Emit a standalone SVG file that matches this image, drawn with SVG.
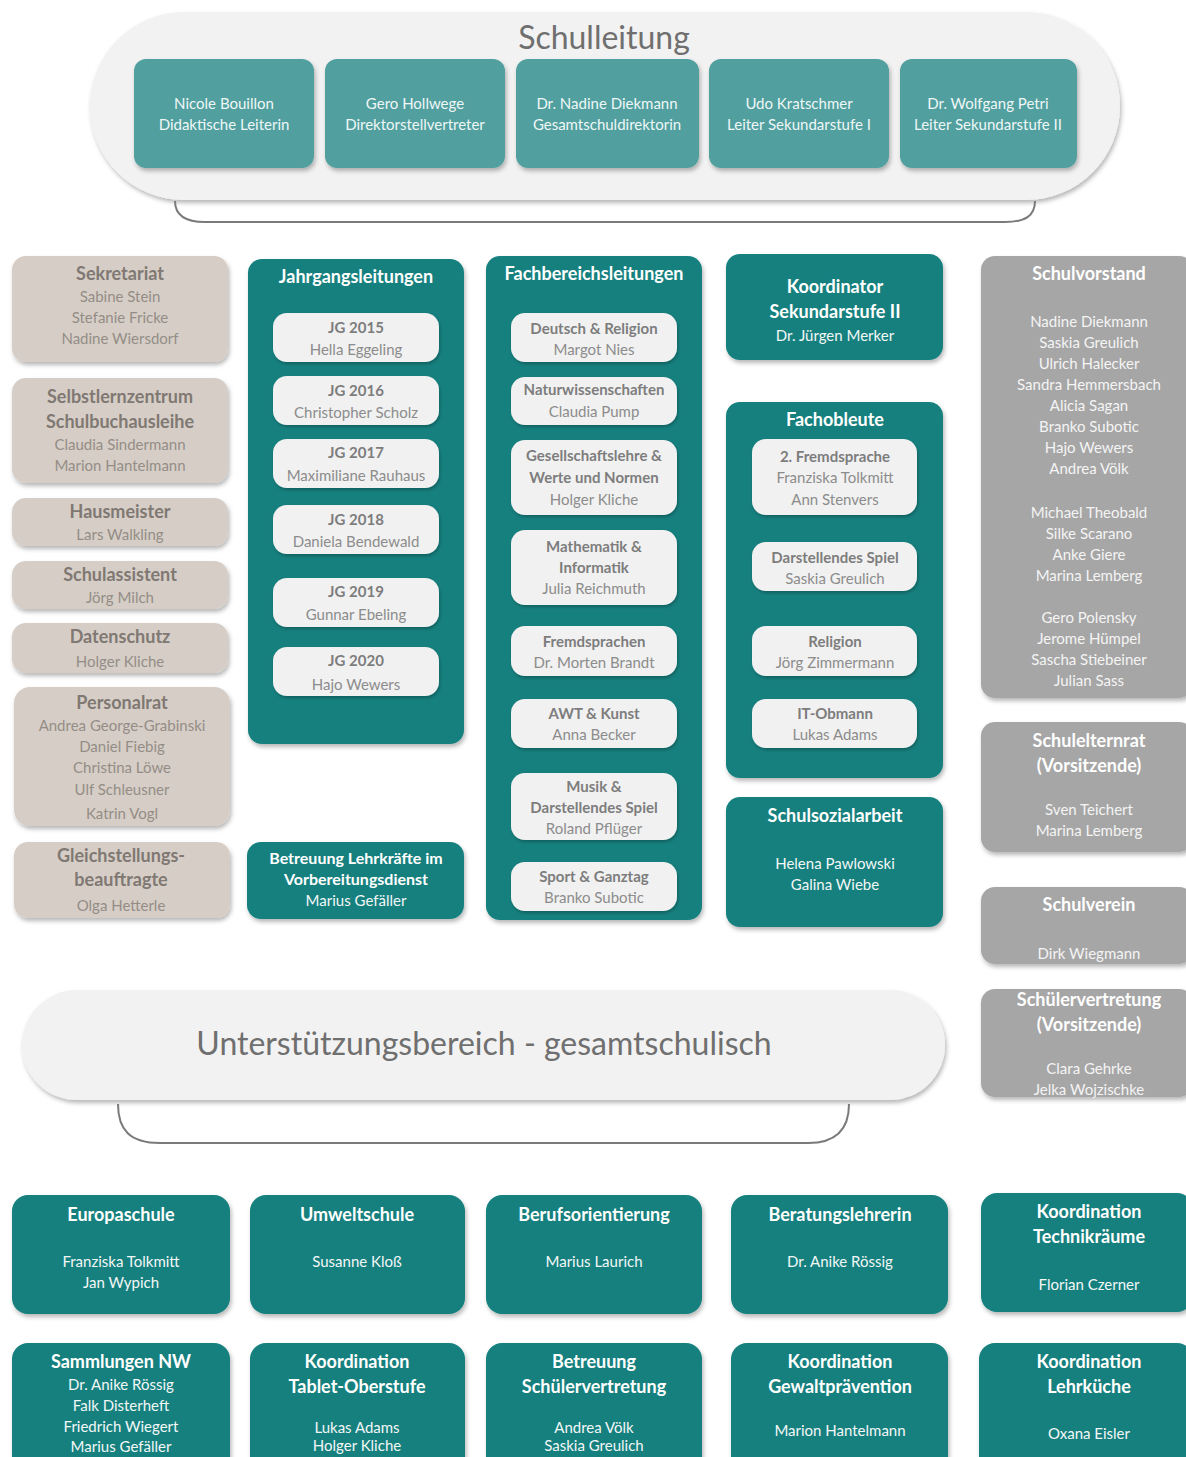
<svg xmlns="http://www.w3.org/2000/svg" width="1186" height="1457" viewBox="0 0 1186 1457">
<defs>
<filter id="sh" x="-10%" y="-10%" width="125%" height="130%">
<feDropShadow dx="1.5" dy="3" stdDeviation="2" flood-color="#000" flood-opacity="0.28"/>
</filter>
<filter id="shl" x="-10%" y="-10%" width="125%" height="130%">
<feDropShadow dx="1" dy="2" stdDeviation="1.5" flood-color="#000" flood-opacity="0.25"/>
</filter>
</defs>
<style>
text{font-family:Lato,"Open Sans","Liberation Sans",sans-serif;text-anchor:middle}
.pill{fill:#f2f2f2;filter:url(#sh)}
.brk{fill:none;stroke:#7a7a7a;stroke-width:2}
.big{font-size:32px;fill:#6f6f6f}
.top{fill:#519f9e;filter:url(#sh)}
.tt{fill:#eef7f7;font-size:15px}
.teal{fill:#14807e;filter:url(#sh)}
.beige{fill:#d6cec6;filter:url(#sh)}
.grey{fill:#a6a6a6;filter:url(#sh)}
.inner{fill:#f1f1f1;filter:url(#shl)}
.wh{fill:#ffffff;font-weight:bold;font-size:18px}
.whn{fill:#f2f7f7;font-size:15px}
.bt{fill:#807873;font-weight:bold;font-size:18px}
.bn{fill:#948d87;font-size:15px}
.it{fill:#7d7d7d;font-weight:bold;font-size:15px}
.in{fill:#8c8c8c;font-size:15px}
.gt{fill:#ffffff;font-weight:bold;font-size:18px}
.gn{fill:#f4f4f4;font-size:15px}
.wb{fill:#ffffff;font-weight:bold;font-size:16px}
</style>

<g id="decor">
<g id="schulleitung">
<rect class="pill" x="90" y="12" width="1030" height="188" rx="94"/>
<text class="big" x="604" y="49">Schulleitung</text>
</g>
<path class="brk" d="M175,201 C175,216 186,222 205,222 L1005,222 C1025,222 1035,216 1035,201"/>
<g id="unterstuetzung">
<rect class="pill" x="22" y="990" width="923" height="110" rx="55"/>
<text class="big" x="484" y="1055">Unterstützungsbereich - gesamtschulisch</text>
</g>
<path class="brk" d="M118,1104 C118,1130 130,1143 160,1143 L808,1143 C836,1143 849,1130 849,1104"/>
</g>

<g id="connectors"></g>

<!-- Schulleitung members -->
<g id="sl1"><rect class="top" x="134" y="59" width="180" height="109" rx="12"/><text class="tt" x="224" y="109">Nicole Bouillon</text><text class="tt" x="224" y="130">Didaktische Leiterin</text></g>
<g id="sl2"><rect class="top" x="325" y="59" width="180" height="109" rx="12"/><text class="tt" x="415" y="109">Gero Hollwege</text><text class="tt" x="415" y="130">Direktorstellvertreter</text></g>
<g id="sl3"><rect class="top" x="516" y="59" width="183" height="109" rx="12"/><text class="tt" x="607" y="109">Dr. Nadine Diekmann</text><text class="tt" x="607" y="130">Gesamtschuldirektorin</text></g>
<g id="sl4"><rect class="top" x="709" y="59" width="180" height="109" rx="12"/><text class="tt" x="799" y="109">Udo Kratschmer</text><text class="tt" x="799" y="130">Leiter Sekundarstufe I</text></g>
<g id="sl5"><rect class="top" x="900" y="59" width="177" height="109" rx="12"/><text class="tt" x="988" y="109">Dr. Wolfgang Petri</text><text class="tt" x="988" y="130">Leiter Sekundarstufe II</text></g>

<!-- Left column -->
<g id="sekretariat"><rect class="beige" x="12" y="256" width="216" height="106" rx="14"/><text class="bt" x="120" y="280">Sekretariat</text><text class="bn" x="120" y="302">Sabine Stein</text><text class="bn" x="120" y="323">Stefanie Fricke</text><text class="bn" x="120" y="344">Nadine Wiersdorf</text></g>
<g id="selbstlern"><rect class="beige" x="12" y="378" width="216" height="105" rx="14"/><text class="bt" x="120" y="403">Selbstlernzentrum</text><text class="bt" x="120" y="428">Schulbuchausleihe</text><text class="bn" x="120" y="450">Claudia Sindermann</text><text class="bn" x="120" y="471">Marion Hantelmann</text></g>
<g id="hausmeister"><rect class="beige" x="12" y="498" width="216" height="48" rx="14"/><text class="bt" x="120" y="518">Hausmeister</text><text class="bn" x="120" y="540">Lars Walkling</text></g>
<g id="schulassistent"><rect class="beige" x="12" y="561" width="216" height="48" rx="14"/><text class="bt" x="120" y="581">Schulassistent</text><text class="bn" x="120" y="603">Jörg Milch</text></g>
<g id="datenschutz"><rect class="beige" x="12" y="623" width="216" height="50" rx="14"/><text class="bt" x="120" y="643">Datenschutz</text><text class="bn" x="120" y="667">Holger Kliche</text></g>
<g id="personalrat"><rect class="beige" x="14" y="687" width="216" height="139" rx="16"/><text class="bt" x="122" y="709">Personalrat</text><text class="bn" x="122" y="731">Andrea George-Grabinski</text><text class="bn" x="122" y="752">Daniel Fiebig</text><text class="bn" x="122" y="773">Christina Löwe</text><text class="bn" x="122" y="795">Ulf Schleusner</text><text class="bn" x="122" y="819">Katrin Vogl</text></g>
<g id="gleichstellung"><rect class="beige" x="14" y="842" width="216" height="76" rx="14"/><text class="bt" x="121" y="862">Gleichstellungs-</text><text class="bt" x="121" y="886">beauftragte</text><text class="bn" x="121" y="911">Olga Hetterle</text></g>

<!-- Jahrgangsleitungen -->
<g id="jahrgang">
<rect class="teal" x="248" y="259" width="216" height="485" rx="14"/>
<text class="wh" x="356" y="283">Jahrgangsleitungen</text>
<g id="jg2015"><rect class="inner" x="273" y="313" width="166" height="49" rx="14"/><text class="it" x="356" y="333">JG 2015</text><text class="in" x="356" y="355">Hella Eggeling</text></g>
<g id="jg2016"><rect class="inner" x="273" y="376" width="166" height="49" rx="14"/><text class="it" x="356" y="396">JG 2016</text><text class="in" x="356" y="418">Christopher Scholz</text></g>
<g id="jg2017"><rect class="inner" x="273" y="439" width="166" height="49" rx="14"/><text class="it" x="356" y="458">JG 2017</text><text class="in" x="356" y="481">Maximiliane Rauhaus</text></g>
<g id="jg2018"><rect class="inner" x="273" y="505" width="166" height="49" rx="14"/><text class="it" x="356" y="525">JG 2018</text><text class="in" x="356" y="547">Daniela Bendewald</text></g>
<g id="jg2019"><rect class="inner" x="273" y="578" width="166" height="49" rx="14"/><text class="it" x="356" y="597">JG 2019</text><text class="in" x="356" y="620">Gunnar Ebeling</text></g>
<g id="jg2020"><rect class="inner" x="273" y="647" width="166" height="49" rx="14"/><text class="it" x="356" y="666">JG 2020</text><text class="in" x="356" y="690">Hajo Wewers</text></g>
</g>
<g id="betreuung-lehrkraefte"><rect class="teal" x="247" y="842" width="217" height="77" rx="14"/><text class="wb" x="356" y="864" font-size="15">Betreuung Lehrkräfte im</text><text class="wb" x="356" y="885">Vorbereitungsdienst</text><text class="whn" x="356" y="906">Marius Gefäller</text></g>

<!-- Fachbereichsleitungen -->
<g id="fachbereich">
<rect class="teal" x="486" y="256" width="216" height="664" rx="14"/>
<text class="wh" x="594" y="280">Fachbereichsleitungen</text>
<g id="fb1"><rect class="inner" x="511" y="313" width="166" height="49" rx="14"/><text class="it" x="594" y="334">Deutsch &amp; Religion</text><text class="in" x="594" y="355">Margot Nies</text></g>
<g id="fb2"><rect class="inner" x="511" y="377" width="166" height="48" rx="14"/><text class="it" x="594" y="395">Naturwissenschaften</text><text class="in" x="594" y="417">Claudia Pump</text></g>
<g id="fb3"><rect class="inner" x="511" y="440" width="166" height="75" rx="14"/><text class="it" x="594" y="461">Gesellschaftslehre &amp;</text><text class="it" x="594" y="483">Werte und Normen</text><text class="in" x="594" y="505">Holger Kliche</text></g>
<g id="fb4"><rect class="inner" x="511" y="530" width="166" height="75" rx="14"/><text class="it" x="594" y="552">Mathematik &amp;</text><text class="it" x="594" y="573">Informatik</text><text class="in" x="594" y="594">Julia Reichmuth</text></g>
<g id="fb5"><rect class="inner" x="511" y="626" width="166" height="50" rx="14"/><text class="it" x="594" y="647">Fremdsprachen</text><text class="in" x="594" y="668">Dr. Morten Brandt</text></g>
<g id="fb6"><rect class="inner" x="511" y="699" width="166" height="49" rx="14"/><text class="it" x="594" y="719">AWT &amp; Kunst</text><text class="in" x="594" y="740">Anna Becker</text></g>
<g id="fb7"><rect class="inner" x="511" y="773" width="166" height="67" rx="14"/><text class="it" x="594" y="792">Musik &amp;</text><text class="it" x="594" y="813">Darstellendes Spiel</text><text class="in" x="594" y="834">Roland Pflüger</text></g>
<g id="fb8"><rect class="inner" x="511" y="862" width="166" height="49" rx="14"/><text class="it" x="594" y="882">Sport &amp; Ganztag</text><text class="in" x="594" y="903">Branko Subotic</text></g>
</g>

<!-- Koordinator / Fachobleute / Schulsozialarbeit -->
<g id="koord-sek2"><rect class="teal" x="726" y="254" width="217" height="106" rx="14"/><text class="wh" x="835" y="293">Koordinator</text><text class="wh" x="835" y="318">Sekundarstufe II</text><text class="whn" x="835" y="341">Dr. Jürgen Merker</text></g>
<g id="fachobleute">
<rect class="teal" x="726" y="402" width="217" height="376" rx="14"/>
<text class="wh" x="835" y="426">Fachobleute</text>
<g id="fo1"><rect class="inner" x="752" y="439" width="165" height="76" rx="14"/><text class="it" x="835" y="462">2. Fremdsprache</text><text class="in" x="835" y="483">Franziska Tolkmitt</text><text class="in" x="835" y="505">Ann Stenvers</text></g>
<g id="fo2"><rect class="inner" x="752" y="542" width="165" height="49" rx="14"/><text class="it" x="835" y="563">Darstellendes Spiel</text><text class="in" x="835" y="584">Saskia Greulich</text></g>
<g id="fo3"><rect class="inner" x="752" y="626" width="165" height="50" rx="14"/><text class="it" x="835" y="647">Religion</text><text class="in" x="835" y="668">Jörg Zimmermann</text></g>
<g id="fo4"><rect class="inner" x="752" y="699" width="165" height="49" rx="14"/><text class="it" x="835" y="719">IT-Obmann</text><text class="in" x="835" y="740">Lukas Adams</text></g>
</g>
<g id="schulsozialarbeit"><rect class="teal" x="726" y="797" width="217" height="130" rx="14"/><text class="wh" x="835" y="822">Schulsozialarbeit</text><text class="whn" x="835" y="869">Helena Pawlowski</text><text class="whn" x="835" y="890">Galina Wiebe</text></g>

<!-- Right column -->
<g id="schulvorstand"><rect class="grey" x="981" y="256" width="212" height="442" rx="14"/><text class="gt" x="1089" y="280">Schulvorstand</text>
<text class="gn" x="1089" y="327">Nadine Diekmann</text><text class="gn" x="1089" y="348">Saskia Greulich</text><text class="gn" x="1089" y="369">Ulrich Halecker</text><text class="gn" x="1089" y="390">Sandra Hemmersbach</text><text class="gn" x="1089" y="411">Alicia Sagan</text><text class="gn" x="1089" y="432">Branko Subotic</text><text class="gn" x="1089" y="453">Hajo Wewers</text><text class="gn" x="1089" y="474">Andrea Völk</text>
<text class="gn" x="1089" y="518">Michael Theobald</text><text class="gn" x="1089" y="539">Silke Scarano</text><text class="gn" x="1089" y="560">Anke Giere</text><text class="gn" x="1089" y="581">Marina Lemberg</text>
<text class="gn" x="1089" y="623">Gero Polensky</text><text class="gn" x="1089" y="644">Jerome Hümpel</text><text class="gn" x="1089" y="665">Sascha Stiebeiner</text><text class="gn" x="1089" y="686">Julian Sass</text></g>
<g id="schulelternrat"><rect class="grey" x="981" y="722" width="212" height="130" rx="14"/><text class="gt" x="1089" y="747">Schulelternrat</text><text class="gt" x="1089" y="772">(Vorsitzende)</text><text class="gn" x="1089" y="815">Sven Teichert</text><text class="gn" x="1089" y="836">Marina Lemberg</text></g>
<g id="schulverein"><rect class="grey" x="981" y="887" width="212" height="77" rx="14"/><text class="gt" x="1089" y="911">Schulverein</text><text class="gn" x="1089" y="959">Dirk Wiegmann</text></g>
<g id="schuelervertretung"><rect class="grey" x="981" y="989" width="212" height="108" rx="14"/><text class="gt" x="1089" y="1006">Schülervertretung</text><text class="gt" x="1089" y="1031">(Vorsitzende)</text><text class="gn" x="1089" y="1074">Clara Gehrke</text><text class="gn" x="1089" y="1095">Jelka Wojzischke</text></g>

<!-- Bottom row 1 -->
<g id="europaschule"><rect class="teal" x="12" y="1195" width="218" height="119" rx="16"/><text class="wh" x="121" y="1221">Europaschule</text><text class="whn" x="121" y="1267">Franziska Tolkmitt</text><text class="whn" x="121" y="1288">Jan Wypich</text></g>
<g id="umweltschule"><rect class="teal" x="250" y="1195" width="215" height="119" rx="16"/><text class="wh" x="357" y="1221">Umweltschule</text><text class="whn" x="357" y="1267">Susanne Kloß</text></g>
<g id="berufsorientierung"><rect class="teal" x="486" y="1195" width="216" height="119" rx="16"/><text class="wh" x="594" y="1221">Berufsorientierung</text><text class="whn" x="594" y="1267">Marius Laurich</text></g>
<g id="beratungslehrerin"><rect class="teal" x="731" y="1195" width="217" height="119" rx="16"/><text class="wh" x="840" y="1221">Beratungslehrerin</text><text class="whn" x="840" y="1267">Dr. Anike Rössig</text></g>
<g id="technikraeume"><rect class="teal" x="981" y="1193" width="212" height="119" rx="16"/><text class="wh" x="1089" y="1218">Koordination</text><text class="wh" x="1089" y="1243">Technikräume</text><text class="whn" x="1089" y="1290">Florian Czerner</text></g>

<!-- Bottom row 2 -->
<g id="sammlungen"><rect class="teal" x="12" y="1343" width="218" height="130" rx="16"/><text class="wh" x="121" y="1368">Sammlungen NW</text><text class="whn" x="121" y="1390">Dr. Anike Rössig</text><text class="whn" x="121" y="1411">Falk Disterheft</text><text class="whn" x="121" y="1432">Friedrich Wiegert</text><text class="whn" x="121" y="1452">Marius Gefäller</text></g>
<g id="tablet"><rect class="teal" x="250" y="1343" width="215" height="130" rx="16"/><text class="wh" x="357" y="1368">Koordination</text><text class="wh" x="357" y="1393">Tablet-Oberstufe</text><text class="whn" x="357" y="1433">Lukas Adams</text><text class="whn" x="357" y="1451">Holger Kliche</text></g>
<g id="betreuung-sv"><rect class="teal" x="486" y="1343" width="216" height="130" rx="16"/><text class="wh" x="594" y="1368">Betreuung</text><text class="wh" x="594" y="1393">Schülervertretung</text><text class="whn" x="594" y="1433">Andrea Völk</text><text class="whn" x="594" y="1451">Saskia Greulich</text></g>
<g id="gewalt"><rect class="teal" x="731" y="1343" width="217" height="130" rx="16"/><text class="wh" x="840" y="1368">Koordination</text><text class="wh" x="840" y="1393">Gewaltprävention</text><text class="whn" x="840" y="1436">Marion Hantelmann</text></g>
<g id="lehrkueche"><rect class="teal" x="979" y="1343" width="214" height="130" rx="16"/><text class="wh" x="1089" y="1368">Koordination</text><text class="wh" x="1089" y="1393">Lehrküche</text><text class="whn" x="1089" y="1439">Oxana Eisler</text></g>
</svg>
